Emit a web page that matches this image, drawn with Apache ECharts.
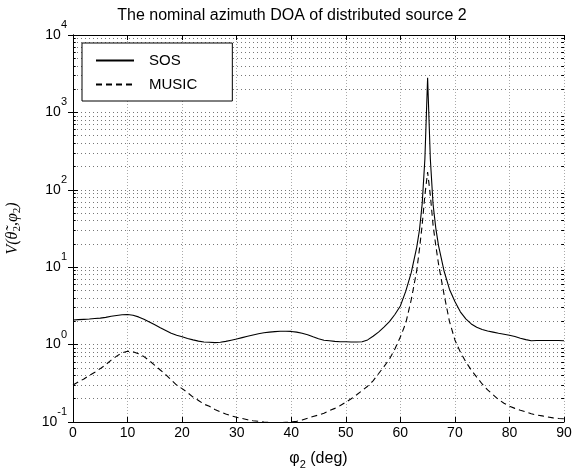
<!DOCTYPE html>
<html><head><meta charset="utf-8">
<script src="https://cdn.jsdelivr.net/npm/echarts@6/dist/echarts.min.js"></script>
<style>html,body{margin:0;padding:0;background:#fff}#c{width:574px;height:472px}</style>
</head><body><div id="c"></div>
<script>
const titleText = 'The nominal azimuth DOA of distributed source 2';
const seriesNames = ['SOS', 'MUSIC'];
const xDeg = [0,1,2,3,4,5,6,7,8,9,10,11,12,13,14,15,16,17,18,19,20,21,22,23,24,25,26,27,28,29,30,31,32,33,34,35,36,37,38,39,40,41,42,43,44,45,46,47,48,49,50,51,52,53,54,55,56,57,58,59,60,61,62,63,63.5,64,64.5,65,65.5,66,66.5,67,68,69,70,71,72,73,74,75,76,77,78,79,80,81,82,83,84,85,86,87,88,89,90];
const sosValues = [2.08,2.10,2.12,2.14,2.17,2.20,2.25,2.32,2.38,2.43,2.45,2.40,2.28,2.12,1.96,1.80,1.65,1.52,1.40,1.32,1.26,1.20,1.15,1.11,1.08,1.07,1.06,1.07,1.10,1.14,1.18,1.23,1.28,1.33,1.38,1.42,1.45,1.47,1.49,1.49,1.48,1.45,1.40,1.34,1.26,1.19,1.14,1.12,1.10,1.09,1.09,1.08,1.08,1.09,1.15,1.28,1.45,1.68,1.98,2.45,3.15,4.9,8.5,18,30,65,250,2800,250,65,32,19,9,5.2,3.6,2.65,2.15,1.85,1.68,1.57,1.50,1.45,1.40,1.36,1.32,1.27,1.21,1.16,1.12,1.13,1.13,1.13,1.13,1.13,1.12];
const musicValues = [0.30,0.33,0.36,0.40,0.44,0.49,0.55,0.63,0.71,0.78,0.82,0.81,0.76,0.70,0.62,0.54,0.47,0.41,0.35,0.30,0.27,0.24,0.21,0.19,0.17,0.16,0.145,0.135,0.127,0.12,0.115,0.111,0.107,0.104,0.102,0.100,0.099,0.098,0.098,0.099,0.100,0.102,0.106,0.112,0.118,0.123,0.13,0.14,0.15,0.163,0.18,0.20,0.225,0.255,0.29,0.34,0.42,0.52,0.65,0.88,1.25,1.9,3.8,9,17,35,85,170,85,35,19,11,4.5,2.0,1.15,0.80,0.60,0.47,0.38,0.31,0.26,0.225,0.195,0.175,0.16,0.15,0.142,0.135,0.128,0.123,0.12,0.116,0.113,0.111,0.11];
const yDecades = [0.1, 1, 10, 100, 1000, 10000];
const yMinorMult = [2,3,4,5,6,7,8,9];

const minorVals = [];
for (let i = 0; i < yDecades.length - 1; i++) {
  yMinorMult.forEach(m => minorVals.push(+(yDecades[i] * m).toPrecision(3)));
}
const sosData = xDeg.map((x, i) => [x, sosValues[i]]);
const musicData = xDeg.map((x, i) => [x, musicValues[i]]);

const FONT = 'Liberation Sans';
const gridStyle = { color: '#777', width: 1, type: [1, 3] };

const yLabelFmt = v => {
  const e = Math.round(Math.log10(v));
  return '{b|10}{s|' + e + '}';
};

const chart = echarts.init(document.getElementById('c'), null, { renderer: 'canvas' });
chart.setOption({
  animation: false,
  backgroundColor: '#fff',
  graphic: [{
    type: 'text', x: 292, y: 16,
    style: { text: titleText, font: '16px "Liberation Sans"', fill: '#000', textAlign: 'center', textVerticalAlign: 'middle' }
  }],
  grid: { left: 73, right: 10, top: 35, bottom: 50, show: false, containLabel: false, outerBoundsMode: 'none' },
  legend: {
    data: seriesNames,
    orient: 'vertical',
    left: 82, top: 43,
    padding: [10, 35, 9, 13],
    itemWidth: 38, itemHeight: 14, itemGap: 9,
    backgroundColor: '#fff',
    borderColor: '#000', borderWidth: 1, borderRadius: 0,
    itemStyle: { opacity: 0, borderWidth: 0 },
    textStyle: { fontFamily: FONT, fontSize: 15, color: '#000', padding: [0, 0, 0, 10] },
    z: 10
  },
  xAxis: [{
    type: 'value', min: 0, max: 90, interval: 10,
    name: '{p|φ}{sub|2}{p| (deg)}', nameLocation: 'middle', nameGap: 26,
    nameTextStyle: {
      color: '#000',
      rich: {
        p: { fontFamily: FONT, fontSize: 16, color: '#000' },
        sub: { fontFamily: FONT, fontSize: 11, color: '#000', padding: [11, 0, 0, 0] }
      }
    },
    axisLine: { show: true, lineStyle: { color: '#000', width: 1 } },
    axisTick: { show: true, inside: true, length: 5, lineStyle: { color: '#000' } },
    axisLabel: { margin: 4, fontFamily: FONT, fontSize: 14, color: '#000' },
    splitLine: { show: true, lineStyle: { color: '#aaa', width: 1, type: [1, 2] } }
  }, {
    type: 'value', min: 0, max: 90, interval: 10, position: 'top',
    axisLine: { show: true, lineStyle: { color: '#000', width: 1 } },
    axisTick: { show: true, inside: true, length: 5, lineStyle: { color: '#000' } },
    axisLabel: { show: false }, splitLine: { show: false }
  }],
  yAxis: [{
    type: 'log', logBase: 10, min: 0.1, max: 10000, interval: 1,
    name: 'V(θ̃{sub|2},φ{sub|2})', nameLocation: 'middle', nameGap: 50,
    nameTextStyle: {
      fontFamily: 'Liberation Serif', fontStyle: 'italic', fontSize: 16, color: '#000',
      rich: {
        sub: { fontFamily: 'Liberation Serif', fontStyle: 'normal', fontSize: 11, color: '#000', padding: [9, 0, 0, 0] }
      }
    },
    axisLine: { show: true, lineStyle: { color: '#000', width: 1 } },
    axisTick: { show: true, inside: true, length: 5, lineStyle: { color: '#000' } },
    axisLabel: {
      margin: 6, formatter: yLabelFmt,
      rich: {
        b: { fontFamily: FONT, fontSize: 14, color: '#000' },
        s: { fontFamily: FONT, fontSize: 11, color: '#000', padding: [0, 0, 20, 0] }
      }
    },
    splitLine: { show: true, lineStyle: gridStyle }
  }, {
    type: 'log', logBase: 10, min: 0.1, max: 10000, interval: 1, position: 'right',
    axisLine: { show: true, lineStyle: { color: '#000', width: 1 } },
    axisTick: { show: true, inside: true, length: 5, lineStyle: { color: '#000' } },
    axisLabel: { show: false }, splitLine: { show: false }
  }],
  series: [{
    name: seriesNames[0], type: 'line', data: sosData, xAxisIndex: 0, yAxisIndex: 0,
    symbol: 'none', showSymbol: false, smooth: false,
    lineStyle: { color: '#000', width: 1.1, type: 'solid' },
    itemStyle: { color: '#000' },
    z: 5,
    markLine: {
      silent: true, symbol: 'none', animation: false,
      label: { show: false },
      lineStyle: gridStyle,
      data: minorVals.map(v => ({ yAxis: v }))
    }
  }, {
    name: seriesNames[1], type: 'line', data: musicData, xAxisIndex: 0, yAxisIndex: 0,
    symbol: 'none', showSymbol: false, smooth: false,
    lineStyle: { color: '#000', width: 1.1, type: [6, 4] },
    itemStyle: { color: '#000' },
    z: 5,
    markLine: {
      silent: true, symbol: 'none', animation: false,
      label: { show: false },
      lineStyle: { color: '#000', width: 1, type: 'solid' },
      data: minorVals.flatMap(v => [
        [{ coord: [0, v] }, { coord: [0.5, v] }],
        [{ coord: [89.5, v] }, { coord: [90, v] }]
      ])
    }
  }]
});
</script></body></html>
